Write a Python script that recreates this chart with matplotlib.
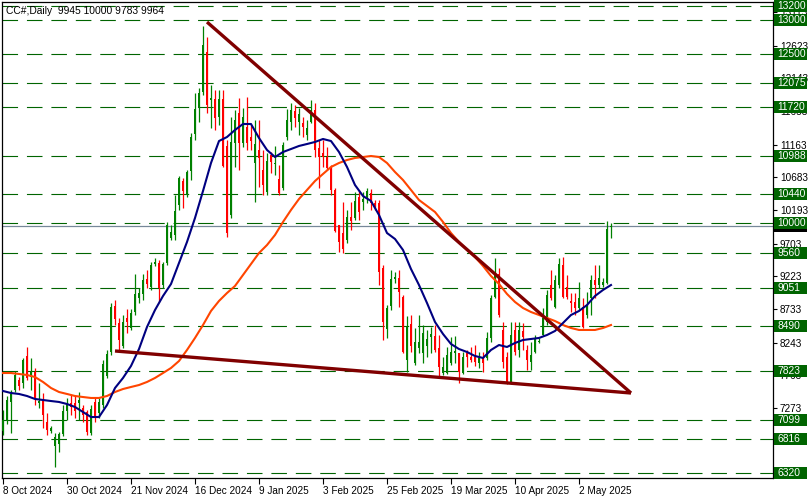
import matplotlib
matplotlib.use("Agg")
import matplotlib.pyplot as plt
from matplotlib.patches import Rectangle
import numpy as np

plt.rcParams['font.family'] = ['Liberation Sans', 'DejaVu Sans']

# ---------------- data ----------------
title = "CC#,Daily  9945 10000 9783 9964"

date_labels = ["8 Oct 2024", "30 Oct 2024", "21 Nov 2024", "16 Dec 2024", "9 Jan 2025",
               "3 Feb 2025", "25 Feb 2025", "19 Mar 2025", "10 Apr 2025", "2 May 2025"]
date_label_bars = [0, 16, 32, 48, 64, 80, 96, 112, 128, 144]

opens = [6938, 7085, 7366, 7543, 7690, 7646, 8044, 7734, 7808, 7351,
         7410, 7071, 6938, 6717, 6746, 6894, 7233, 7351, 7351, 7351,
         7277, 7218, 6908, 7366, 7203, 7321, 7749, 8103, 8782, 8531,
         8192, 8605, 8457, 8693, 8900, 8959, 9180, 9062, 9401, 9416,
         9091, 9416, 9785, 9829, 10271, 10625, 10419, 10773, 11319, 11717,
         11938, 12528, 11820, 11835, 11569, 11835, 11142, 10124, 11186, 11628,
         11186, 11422, 11274, 10891, 11083, 10788, 10463, 11009, 10876, 10655,
         10522, 11274, 11496, 11658, 11496, 11481, 11304, 11496, 11673, 11112,
         11038, 10979, 10832, 10493, 9976, 9858, 9755, 10094, 10080, 10389,
         10316, 10389, 10448, 10301, 10301, 9342, 8442, 8782, 9180, 9195,
         8914, 7985, 8516, 7941, 8162, 8088, 8192, 8324, 8339, 8162,
         7793, 7793, 7941, 8088, 8088, 7793, 8088, 8029, 8029, 7941,
         8015, 8015, 8310, 8914, 9254, 8428, 8029, 7661, 8428, 8133,
         8413, 8133, 7956, 8103, 8251, 8354, 8546, 9091, 8767, 9091,
         9386, 9062, 8855, 8841, 8752, 8767, 8649, 8900, 9165, 9091,
         9091, 9121, 9945]

highs = [7248, 7454, 7543, 7823, 7734, 8015, 8177, 8015, 7867, 7646,
         7498, 7203, 7012, 6908, 6923, 7321, 7425, 7469, 7469, 7513,
         7321, 7248, 7321, 7425, 7425, 7985, 8133, 8826, 8870, 8605,
         8649, 8737, 8737, 9254, 9047, 9254, 9313, 9431, 9490, 9460,
         9431, 10021, 9976, 10419, 10699, 10670, 10788, 11333, 11923, 11997,
         12912, 12749, 12041, 11968, 11968, 11968, 11230, 11569, 11673, 11850,
         11702, 11864, 11451, 11525, 11525, 11083, 11038, 11053, 11142, 10861,
         11201, 11687, 11776, 11746, 11702, 11569, 11525, 11820, 11776, 11230,
         11230, 11127, 10861, 10522, 9976, 10316, 10198, 10316, 10463, 10493,
         10463, 10522, 10507, 10345, 10345, 9386, 8796, 9313, 9283, 9313,
         8944, 8634, 8649, 8457, 8649, 8501, 8428, 8472, 8501, 8354,
         8029, 8177, 8324, 8339, 8088, 8103, 8133, 8177, 8206, 8103,
         8103, 8398, 8944, 9490, 9342, 8546, 8103, 8546, 8546, 8546,
         8531, 8206, 8251, 8354, 8310, 8752, 9018, 9313, 9239, 9490,
         9504, 9239, 8973, 8973, 9136, 8900, 8988, 9239, 9386, 9386,
         9195, 10035, 10000]

lows = [6879, 7041, 6908, 7513, 7543, 7572, 7690, 7543, 7321, 7277,
        6982, 6879, 6908, 6407, 6628, 6864, 7100, 7174, 7130, 7100,
        7071, 6879, 6879, 7071, 7130, 7277, 7720, 8059, 8501, 8133,
        8162, 8383, 8428, 8649, 8826, 8870, 9047, 9018, 9372, 8841,
        9047, 9386, 9755, 9755, 10198, 10227, 10389, 10640, 11230, 11496,
        11894, 11628, 11407, 11378, 11451, 10832, 9800, 10080, 10832, 10788,
        11127, 11083, 11083, 10316, 10537, 10419, 10419, 10743, 10714, 10419,
        10493, 11230, 11378, 11422, 11304, 11274, 11230, 11481, 10979, 10522,
        10832, 10788, 10419, 9873, 9578, 9563, 9711, 9903, 10050, 10050,
        10198, 10301, 10198, 10198, 9091, 8280, 8310, 8722, 9121, 8767,
        8088, 7808, 8103, 7911, 8088, 7941, 8029, 8088, 8103, 7734,
        7764, 7779, 7911, 7941, 7646, 7779, 7882, 7956, 7897, 7867,
        7808, 7985, 8251, 8900, 8620, 7867, 7631, 7631, 8059, 8029,
        8133, 7838, 7838, 8088, 8236, 8339, 8501, 8870, 8752, 9047,
        8900, 8885, 8693, 8649, 8722, 8457, 8605, 8649, 8900, 9047,
        9062, 9106, 9783]

closes = [7100, 7395, 7484, 7764, 7602, 7985, 7720, 7808, 7425, 7380,
          7174, 6953, 6982, 6849, 6894, 7233, 7336, 7292, 7233, 7395,
          7174, 6923, 7262, 7130, 7366, 7926, 8074, 8767, 8590, 8280,
          8546, 8546, 8678, 8959, 8973, 9165, 9106, 9386, 9431, 9047,
          9401, 9976, 9873, 10183, 10670, 10478, 10758, 11274, 11687, 11923,
          12631, 11746, 11850, 11555, 11835, 10847, 9858, 11201, 11525, 11186,
          11569, 11186, 11215, 11171, 10965, 10566, 10920, 10906, 10891, 10448,
          11156, 11525, 11673, 11555, 11614, 11422, 11407, 11673, 11083, 10979,
          10979, 10817, 10493, 9888, 9726, 9622, 10094, 10035, 10330, 10168,
          10360, 10478, 10301, 10242, 9283, 8546, 8752, 9180, 9209, 8988,
          8103, 8472, 8192, 8251, 8251, 8383, 8295, 8369, 8133, 7882,
          7882, 8059, 8103, 8118, 7808, 8029, 8029, 7985, 7956, 8015,
          7941, 8310, 8900, 9254, 8649, 7956, 7661, 8354, 8103, 8428,
          8324, 7985, 8059, 8310, 8265, 8605, 8944, 8900, 9165, 9401,
          8914, 8914, 8826, 8752, 8900, 8472, 8796, 9165, 9091, 9195,
          9136, 9917, 9964]

# moving averages, every second bar
ma_fast = [7528, 7498, 7484, 7454, 7410, 7395, 7380, 7366, 7336, 7292,
           7218, 7144, 7144, 7321, 7572, 7720, 7897, 8147, 8472, 8722,
           8929, 9106, 9416, 9726, 10080, 10478, 10891, 11215, 11274, 11378,
           11466, 11466, 11260, 11083, 10979, 11053, 11097, 11142, 11171, 11201,
           11245, 11215, 11053, 10832, 10566, 10404, 10330, 10124, 9858, 9770,
           9608, 9327, 9091, 8826, 8546, 8369, 8221, 8147, 8103, 8044,
           8015, 8133, 8206, 8177, 8236, 8280, 8295, 8310, 8354, 8413,
           8531, 8649, 8708, 8796, 8929, 9018, 9091]
ma_slow = [7793, 7793, 7779, 7764, 7734, 7661, 7572, 7513, 7484, 7454,
           7439, 7425, 7425, 7454, 7513, 7557, 7587, 7616, 7661, 7720,
           7793, 7867, 7970, 8133, 8310, 8501, 8708, 8856, 8973, 9077,
           9239, 9401, 9563, 9681, 9829, 10021, 10198, 10360, 10493, 10625,
           10729, 10832, 10891, 10935, 10965, 10979, 10994, 10979, 10891, 10758,
           10640, 10493, 10345, 10257, 10168, 10021, 9858, 9726, 9608, 9504,
           9372, 9224, 9106, 8959, 8841, 8752, 8693, 8649, 8605, 8560,
           8501, 8457, 8428, 8428, 8428, 8457, 8501]

# trendlines (bar index, price)
trend_upper_bars = [51, 157]
trend_upper_prices = [12970, 7498]
trend_lower_bars = [28, 157]
trend_lower_prices = [8118, 7498]

levels = [13200, 13000, 12500, 12075, 11720, 10988, 10440, 10000,
          9560, 9051, 8490, 7823, 7099, 6816, 6320]
scale_ticks = [13113, 12623, 12143, 11653, 11163, 10683, 10193, 9703,
               9223, 8733, 8243, 7763, 7273, 6783]
last_price = 9964

# ---------------- figure ----------------
W, H = 812, 499
fig = plt.figure(figsize=(W / 100, H / 100), dpi=100)
ax = fig.add_axes([2 / W, 21 / H, 771 / W, 476 / H])
y_lo, y_hi = 6244.5, 13265.5
ax.set_xlim(-0.25, 192.5)
ax.set_ylim(y_lo, y_hi)
px = (y_hi - y_lo) / 476.0  # price per pixel

GREEN_C = '#008000'
RED_C = '#ff0000'
LEVEL_C = '#006400'

# horizontal levels
for lv in levels:
    ax.axhline(lv, color=LEVEL_C, lw=0.8, dashes=(14, 8), zorder=1)
ax.axhline(last_price, color='#778899', lw=0.9, zorder=1)

# candles
o = np.array(opens); h = np.array(highs); l = np.array(lows); c = np.array(closes)
idx = np.arange(len(o))
up = c >= o
cols = np.where(up, GREEN_C, RED_C)
ax.vlines(idx, l, h, colors=cols, lw=0.9, zorder=3)
body_bot = np.minimum(o, c)
body_h = np.maximum(np.abs(c - o), px * 1.2)
ax.bar(idx, body_h, bottom=body_bot, width=0.72, color=cols, lw=0, zorder=3)

# moving averages
ma_idx = np.arange(0, len(o), 2)
ax.plot(ma_idx, ma_slow, color='#ff4500', lw=1.5, zorder=4)
ax.plot(ma_idx, ma_fast, color='#000080', lw=1.5, zorder=4)

# trendlines
ax.plot(trend_upper_bars, trend_upper_prices, color='#800000', lw=2.4, zorder=5,
        solid_capstyle='butt')
ax.plot(trend_lower_bars, trend_lower_prices, color='#800000', lw=2.4, zorder=5,
        solid_capstyle='butt')

# axes styling
for s in ax.spines.values():
    s.set_color('black')
    s.set_linewidth(0.9)
ax.yaxis.tick_right()
ax.set_yticks(scale_ticks)
ax.set_yticklabels([str(v) for v in scale_ticks])
ax.tick_params(axis='y', length=3, width=0.8, pad=2, labelsize=7.2, colors='black')
ax.set_xticks(date_label_bars)
ax.set_xticklabels(date_labels, ha='left')
ax.tick_params(axis='x', length=4, width=0.8, pad=1.5, labelsize=7.2, colors='black')
for t in ax.get_xticklabels():
    t.set_horizontalalignment('left')

# price labels on the right
trans = ax.get_yaxis_transform()
bw = 33 / 771.0
bx = 1 + 1 / 771.0

def price_box(val, face, text_color, z):
    ax.add_patch(Rectangle((bx, val - 6 * px), bw, 12 * px, transform=trans,
                           facecolor=face, edgecolor='none', clip_on=False, zorder=z))
    ax.text(bx + 3 / 771.0, val, str(val), transform=trans, ha='left', va='center',
            fontsize=7.4, color=text_color, clip_on=False, zorder=z + 0.1)

price_box(last_price, 'black', 'white', 6)
for lv in levels:
    price_box(lv, LEVEL_C, 'white', 7)

ax.text(4 / 771.0, 1 - 4 / 476.0, title, transform=ax.transAxes, ha='left', va='top',
        fontsize=7.4, color='black', zorder=8)

fig.savefig('out.png', dpi=100)
